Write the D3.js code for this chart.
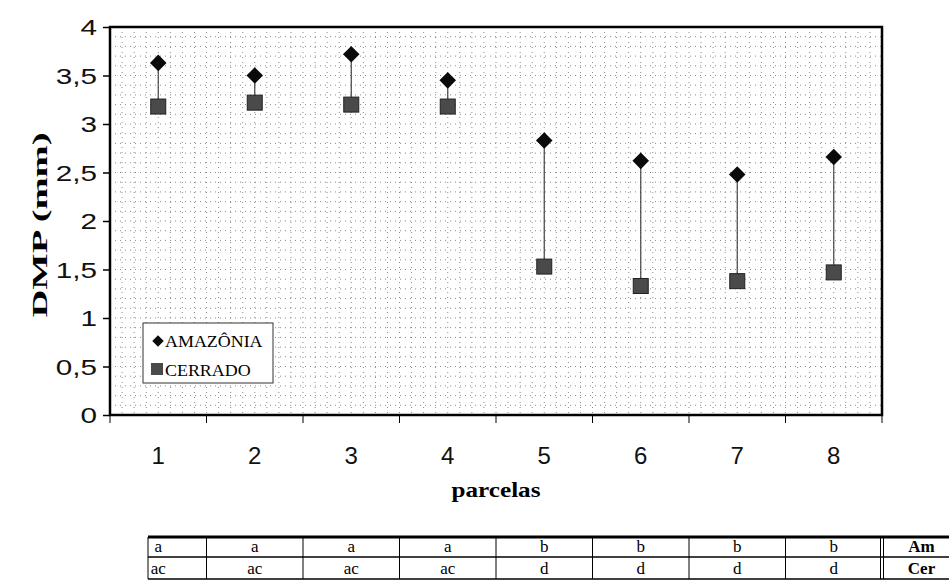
<!DOCTYPE html>
<html>
<head>
<meta charset="utf-8">
<script src="https://cdn.jsdelivr.net/npm/d3@7"></script>
<style>
  body { margin: 0; background: #fff; }
  svg { display: block; }
</style>
</head>
<body>
<div id="chart"></div>
<script>
// data
const parcelas = ["1", "2", "3", "4", "5", "6", "7", "8"];
const amazonia = [3.63, 3.50, 3.72, 3.45, 2.83, 2.62, 2.48, 2.66];
const cerrado  = [3.18, 3.22, 3.20, 3.18, 1.53, 1.33, 1.38, 1.47];
const yTicks = [0, 0.5, 1, 1.5, 2, 2.5, 3, 3.5, 4];
const letrasAm  = ["a", "a", "a", "a", "b", "b", "b", "b"];
const letrasCer = ["ac", "ac", "ac", "ac", "d", "d", "d", "d"];

const width = 949, height = 585;
const margin = { top: 27, right: 67, bottom: 170, left: 110 };
const sans = "Liberation Sans, Arial, sans-serif";
const serif = "Liberation Serif, Times New Roman, serif";

const svg = d3.select("#chart").append("svg")
    .attr("width", width)
    .attr("height", height);

// the scan is a bit stretched, so widen some labels to match
function stretch(sel, factor) {
    sel.each(function () {
        const w = this.getComputedTextLength();
        d3.select(this)
            .attr("textLength", w * factor)
            .attr("lengthAdjust", "spacingAndGlyphs");
    });
}

const x = d3.scaleBand()
    .domain(parcelas)
    .range([margin.left, width - margin.right]);

const y = d3.scaleLinear()
    .domain([0, 4])
    .range([height - margin.bottom, margin.top]);

const plotL = margin.left, plotR = width - margin.right;
const plotT = margin.top, plotB = height - margin.bottom;

// dotted background grid
const grid = svg.append("g").attr("class", "grid");
grid.selectAll("line.h")
    .data(d3.range(0.1, 4, 0.1))
    .join("line")
    .attr("x1", plotL).attr("x2", plotR)
    .attr("y1", d => y(d)).attr("y2", d => y(d))
    .attr("stroke", "#8a8a8a")
    .attr("stroke-width", 1)
    .attr("stroke-dasharray", "1,4");

const xSub = d3.scaleLinear().domain([0, 64]).range([plotL, plotR]);
grid.selectAll("line.v")
    .data(d3.range(1, 64))
    .join("line")
    .attr("x1", d => xSub(d)).attr("x2", d => xSub(d))
    .attr("y1", plotT).attr("y2", plotB)
    .attr("stroke", "#8a8a8a")
    .attr("stroke-width", 1)
    .attr("stroke-dasharray", "1,4");

// plot frame
svg.append("rect")
    .attr("x", plotL).attr("y", plotT)
    .attr("width", plotR - plotL).attr("height", plotB - plotT)
    .attr("fill", "none")
    .attr("stroke", "#000")
    .attr("stroke-width", 2.5);

// y axis
const yAxis = d3.axisLeft(y)
    .tickValues(yTicks)
    .tickSize(7)
    .tickFormat(d => String(d).replace(".", ","));

svg.append("g")
    .attr("transform", `translate(${plotL},0)`)
    .call(yAxis)
    .call(g => g.select(".domain").remove())
    .call(g => g.selectAll("line").attr("stroke", "#000").attr("stroke-width", 1.5))
    .call(g => g.selectAll("text")
        .attr("x", -13)
        .attr("dy", "0.36em")
        .attr("font-family", sans)
        .attr("font-size", 22)
        .attr("fill", "#111")
        .call(stretch, 1.35));

// x axis: ticks at band edges, labels at centers
const edges = parcelas.map(p => x(p)).concat([plotR]);
svg.append("g").selectAll("line")
    .data(edges)
    .join("line")
    .attr("x1", d => d).attr("x2", d => d)
    .attr("y1", plotB).attr("y2", plotB + 8)
    .attr("stroke", "#000")
    .attr("stroke-width", 1);

svg.append("g").selectAll("text")
    .data(parcelas)
    .join("text")
    .attr("x", d => x(d) + x.bandwidth() / 2)
    .attr("y", plotB + 49)
    .attr("text-anchor", "middle")
    .attr("font-family", sans)
    .attr("font-size", 24)
    .attr("fill", "#111")
    .text(d => d);

// axis titles
svg.append("text")
    .attr("x", (plotL + plotR) / 2)
    .attr("y", plotB + 82)
    .attr("text-anchor", "middle")
    .attr("font-family", serif)
    .attr("font-weight", "bold")
    .attr("font-size", 22)
    .attr("textLength", 89)
    .attr("lengthAdjust", "spacingAndGlyphs")
    .text("parcelas");

svg.append("text")
    .attr("transform", `translate(47,${(plotT + plotB) / 2 + 4}) rotate(-90)`)
    .attr("text-anchor", "middle")
    .attr("font-family", serif)
    .attr("font-weight", "bold")
    .attr("font-size", 21)
    .attr("textLength", 185)
    .attr("lengthAdjust", "spacingAndGlyphs")
    .text("DMP (mm)");

// connecting lines
const cx = d => x(d) + x.bandwidth() / 2;
svg.append("g").selectAll("line")
    .data(parcelas)
    .join("line")
    .attr("x1", cx).attr("x2", cx)
    .attr("y1", (d, i) => y(amazonia[i]))
    .attr("y2", (d, i) => y(cerrado[i]))
    .attr("stroke", "#444")
    .attr("stroke-width", 1.2);

// markers
const sq = 15;
svg.append("g").selectAll("rect")
    .data(parcelas)
    .join("rect")
    .attr("x", d => cx(d) - sq / 2)
    .attr("y", (d, i) => y(cerrado[i]) - sq / 2)
    .attr("width", sq).attr("height", sq)
    .attr("fill", "#4a4a4a")
    .attr("stroke", "#222")
    .attr("stroke-width", 1);

const diamond = d3.symbol().type(d3.symbolDiamond2).size(175);
svg.append("g").selectAll("path")
    .data(parcelas)
    .join("path")
    .attr("d", diamond)
    .attr("transform", (d, i) => `translate(${cx(d)},${y(amazonia[i])})`)
    .attr("fill", "#0a0a0a");

// legend
const lg = svg.append("g").attr("transform", "translate(143,323)");
lg.append("rect")
    .attr("width", 130).attr("height", 60)
    .attr("fill", "#fff")
    .attr("stroke", "#333")
    .attr("stroke-width", 1);
lg.append("path")
    .attr("d", d3.symbol().type(d3.symbolDiamond2).size(85))
    .attr("transform", "translate(15,18)")
    .attr("fill", "#0a0a0a");
lg.append("rect")
    .attr("x", 8).attr("y", 40).attr("width", 12).attr("height", 12)
    .attr("fill", "#4a4a4a");
lg.selectAll("text")
    .data(["AMAZÔNIA", "CERRADO"])
    .join("text")
    .attr("x", 22)
    .attr("y", (d, i) => 24 + i * 29)
    .attr("font-family", serif)
    .attr("font-size", 16)
    .text(d => d)
    .call(stretch, 1.12);

// letters table below the chart
const tTop = 537, rowH = 20, tBot = 579;
const tLeft = 148;
const amX = plotR, amW = 75;
const tbl = svg.append("g");
const cellText = (row, letters, yy) => {
    tbl.selectAll("text." + row)
        .data(letters)
        .join("text")
        .attr("class", row)
        .attr("x", (d, i) => cx(parcelas[i]))
        .attr("y", yy)
        .attr("text-anchor", "middle")
        .attr("font-family", serif)
        .attr("font-size", 17)
        .text(d => d);
};
cellText("am", letrasAm, tTop + 15);
cellText("cer", letrasCer, tTop + rowH + 17);

tbl.append("text").attr("x", amX + amW / 2 + 2).attr("y", tTop + 15)
    .attr("text-anchor", "middle")
    .attr("font-family", serif)
    .attr("font-weight", "bold").attr("font-size", 17).text("Am");
tbl.append("text").attr("x", amX + amW / 2 + 2).attr("y", tTop + rowH + 17)
    .attr("text-anchor", "middle")
    .attr("font-family", serif)
    .attr("font-weight", "bold").attr("font-size", 17).text("Cer");

// horizontal rules
tbl.append("line").attr("x1", tLeft).attr("x2", width)
    .attr("y1", tTop).attr("y2", tTop)
    .attr("stroke", "#000").attr("stroke-width", 3);
tbl.append("line").attr("x1", tLeft).attr("x2", width)
    .attr("y1", tTop + rowH).attr("y2", tTop + rowH)
    .attr("stroke", "#000").attr("stroke-width", 1.5);
tbl.append("line").attr("x1", tLeft).attr("x2", width)
    .attr("y1", tBot).attr("y2", tBot)
    .attr("stroke", "#000").attr("stroke-width", 1.5);

// vertical rules
const vRules = [tLeft].concat(parcelas.slice(1).map(p => x(p)));
tbl.selectAll("line.v")
    .data(vRules)
    .join("line")
    .attr("class", "v")
    .attr("x1", d => d).attr("x2", d => d)
    .attr("y1", tTop).attr("y2", tBot)
    .attr("stroke", "#000").attr("stroke-width", 1);
[amX - 1.5, amX + 1.5].forEach(xx => {
    tbl.append("line").attr("x1", xx).attr("x2", xx)
        .attr("y1", tTop).attr("y2", tBot)
        .attr("stroke", "#000").attr("stroke-width", 1);
});
</script>
</body>
</html>
